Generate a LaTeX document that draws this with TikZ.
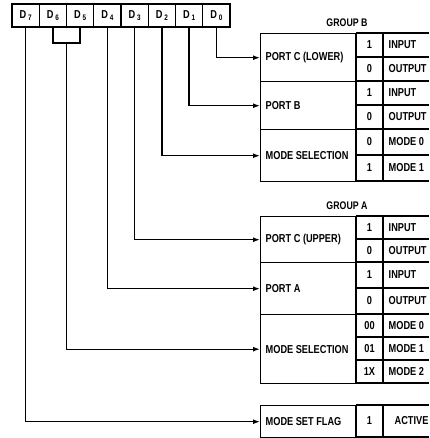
\documentclass[tikz,border=0pt]{standalone}
\usepackage{fontspec}
\setmainfont{Liberation Sans}
\newfontfamily\condsans[FakeStretch=0.8]{Liberation Sans}
\usetikzlibrary{arrows.meta}
\begin{document}
\begin{tikzpicture}[x=1pt,y=-1pt,line width=1.4pt,
  lbl/.style={font=\condsans\fontsize{11.5}{12}\selectfont\bfseries,inner sep=0pt},
  grp/.style={font=\condsans\fontsize{11}{12}\selectfont\bfseries,inner sep=0pt},
  bitbox/.style={draw,minimum width=27.25pt,minimum height=23pt,inner sep=0pt,font=\condsans\fontsize{11.5}{12}\selectfont\bfseries},
  lcell/.style={draw,anchor=north west,minimum width=96pt,inner sep=0pt},
  conn/.style={-{Latex[length=7pt,width=5pt]},line width=1.4pt}]
\useasboundingbox (0,0) rectangle (429,438);

% bit boxes
\foreach \i/\n in {0/7,1/6,2/5,3/4,4/3,5/2,6/1,7/0}{
  \node[bitbox] (b\n) at ({12+27.25*\i+13.625},15.5) {D\,\raisebox{-2pt}{\fontsize{8}{8}\selectfont\n}};
}

% group B
\node[grp] (gb) at (347,23) {GROUP B};
\node[lcell,minimum height=48pt] (pcl) at (260,33) {};
\node[lcell,minimum height=48pt] (pb) at (260,81) {};
\node[lcell,minimum height=52pt] (msb) at (260,129) {};
\node[lbl,anchor=west] (tpcl) at ([xshift=5pt]pcl.west) {PORT C (LOWER)};
\node[lbl,anchor=west] (tpb) at ([xshift=5pt]pb.west) {PORT B};
\node[lbl,anchor=west] (tmsb) at ([xshift=5pt]msb.west) {MODE SELECTION};
\draw (356,33) -- (356,181) (383,33) -- (383,181);
\foreach \y in {33,57,81,105,129,155,181}{\draw (356,\y) -- (429,\y);}

% group A
\node[grp] (ga) at (347,206) {GROUP A};
\node[lcell,minimum height=46pt] (pcu) at (260,216) {};
\node[lcell,minimum height=52pt] (pa) at (260,262) {};
\node[lcell,minimum height=69pt] (msa) at (260,314) {};
\node[lbl,anchor=west] (tpcu) at ([xshift=5pt]pcu.west) {PORT C (UPPER)};
\node[lbl,anchor=west] (tpa) at ([xshift=5pt]pa.west) {PORT A};
\node[lbl,anchor=west] (tmsa) at ([xshift=5pt]msa.west) {MODE SELECTION};
\draw (356,216) -- (356,383) (383,216) -- (383,383);
\foreach \y in {216,239,262,288,314,337,360,383}{\draw (356,\y) -- (429,\y);}

% mode set flag
\node[lcell,minimum height=32pt] (msf) at (260,405) {};
\node[lbl,anchor=west] (tmsf) at ([xshift=5pt]msf.west) {MODE SET FLAG};
\draw (356,405) -- (356,437) (383,405) -- (383,437);
\foreach \y in {405,437}{\draw (356,\y) -- (429,\y);}

% table entries
\foreach \k/\y/\n/\t in {1/45/1/INPUT,2/69/0/OUTPUT,3/93/1/INPUT,4/117/0/OUTPUT,
  5/142/0/MODE 0,6/168/1/MODE 1,7/227.5/1/INPUT,8/250.5/0/OUTPUT,9/275/1/INPUT,
  10/301/0/OUTPUT,11/325.5/00/MODE 0,12/348.5/01/MODE 1,13/371.5/1X/MODE 2}{
  \node[lbl] (num\k) at (369.5,\y) {\n};
  \node[lbl,anchor=west] (txt\k) at (388,\y) {\t};
}
\node[lbl] (num14) at (369.5,421) {1};
\node[lbl,anchor=west] (txt14) at (394,421) {ACTIVE};

% connectors
\coordinate (br) at (66.25,43);
\draw (b6.south) |- (br) -| (b5.south);
\draw[conn] (b0.south) |- (pcl.west);
\draw[conn] (b1.south) |- (pb.west);
\draw[conn] (b2.south) |- (msb.west);
\draw[conn] (b3.south) |- (pcu.west);
\draw[conn] (b4.south) |- (pa.west);
\draw[conn] (br) |- (msa.west);
\draw[conn] (b7.south) |- (msf.west);
\end{tikzpicture}
\end{document}
